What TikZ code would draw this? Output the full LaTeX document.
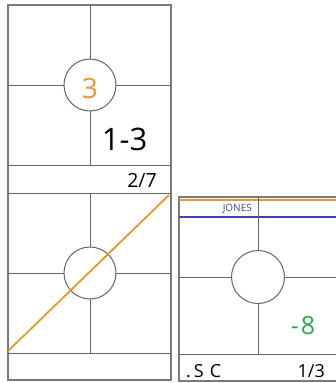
\documentclass[tikz,border=0pt]{standalone}
\usepackage{fontspec}
\setmainfont{Open Sans}
\usetikzlibrary{positioning}
\definecolor{Frame}{HTML}{7A7A7A}
\definecolor{Grid}{HTML}{666666}
\definecolor{Amber}{HTML}{E8972C}
\definecolor{Navy}{HTML}{3B3FB8}
\definecolor{Slate}{HTML}{45458A}
\definecolor{Leaf}{HTML}{2EA84A}
\tikzset{
  frame/.style={draw=Frame,line width=1.1pt},
  gridline/.style={draw=Grid,line width=1pt},
  hole/.style={circle,draw=Grid,line width=1pt,fill=white,minimum size=52pt,inner sep=0pt},
}

\begin{document}
\begin{tikzpicture}[x=1pt,y=-1pt]
        \useasboundingbox (0,0) rectangle (335,383);
        % left column: two boards stacked
        \draw[frame] (8,5) rectangle (171,380);
        \draw[gridline] (8,165) -- (171,165);
        \draw[gridline] (8,193) -- (171,193);
        \draw[gridline] (8,353) -- (171,353);
        \foreach \top/\mid/\bot/\nm in {5/85/165/up, 193/273/353/lo} {
          \draw[gridline] (90,\top) -- (90,\bot);
          \draw[gridline] (8,\mid) -- (171,\mid);
          \node[hole] (c\nm) at (90,\mid) {};
        }
        \node[text=Amber,font=\fontsize{28}{30}\selectfont] (score) at (90,88) {3};
        \node[font=\fontsize{31}{33}\selectfont,anchor=center] (range) at (124.5,139) {1-3};
        \node[font=\fontsize{19.5}{21}\selectfont,anchor=east,inner sep=0pt] (pageup) at (157,180) {2/7};
        \draw[Amber,line width=1.8pt] (8,351) -- (169,195);
        % right board, cut at the page edge
        \draw[frame] (337,197) -- (179,197) -- (179,381) -- (337,381);
        \draw[gridline] (179,354) -- (337,354);
        \draw[Amber,line width=1.8pt] (179,200) -- (337,200);
        \draw[Navy,line width=1.8pt] (179,217) -- (337,217);
        \draw[gridline] (258,197) -- (258,354);
        \draw[gridline] (179,277) -- (337,277);
        \node[hole,minimum size=53pt] (cright) at (258,277) {};
        \node[text=Slate,font=\fontsize{10}{12}\selectfont,anchor=east,inner sep=0pt] (name) at (252,209) {JONES};
        \node[text=Leaf,font=\fontsize{25}{27}\selectfont,inner sep=0pt] (diff) at (303,326) {-\kern2pt8};
        \node[font=\fontsize{18}{20}\selectfont,anchor=west,inner sep=0pt] (team) at (186,371) {.\,S\,\,C};
        \node[font=\fontsize{18}{20}\selectfont,anchor=east,inner sep=0pt] (pagedn) at (325,371) {1/3};
      \end{tikzpicture}
\end{document}
